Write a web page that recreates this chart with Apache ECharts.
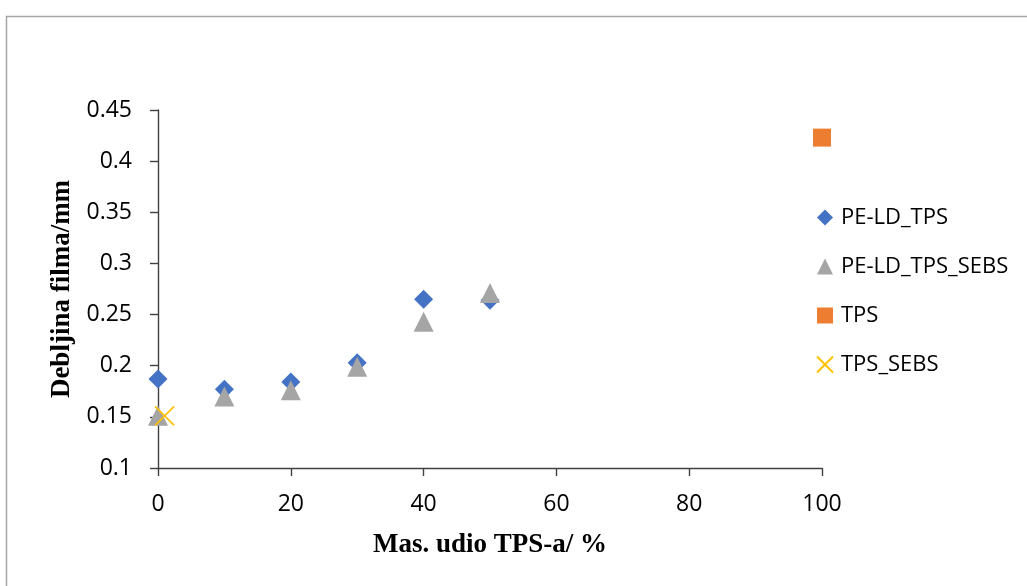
<!DOCTYPE html>
<html>
<head>
<meta charset="utf-8">
<title>Debljina filma</title>
<script src="https://cdn.jsdelivr.net/npm/echarts@6/dist/echarts.min.js"></script>
<style>
  html, body { margin: 0; padding: 0; background: #ffffff; }
  #chart { width: 1027px; height: 586px; }
</style>
</head>
<body>
<div id="chart"></div>
<script>
// Film thickness (mm) against TPS mass fraction (%)
const seriesNames = ['PE-LD_TPS', 'PE-LD_TPS_SEBS', 'TPS', 'TPS_SEBS'];

const peldTpsX = [0, 10, 20, 30, 40, 50];
const peldTpsY = [0.187, 0.177, 0.184, 0.203, 0.265, 0.264];

const peldTpsSebsX = [0, 10, 20, 30, 40, 50];
const peldTpsSebsY = [0.151, 0.170, 0.176, 0.199, 0.243, 0.271];

const tpsX = [100];
const tpsY = [0.423];

const tpsSebsX = [1];
const tpsSebsY = [0.151];

const xTicks = { min: 0, max: 100, interval: 20 };
const yTicks = { min: 0.1, max: 0.45, interval: 0.05 };

const pairs = (xs, ys) => xs.map((x, i) => [x, ys[i]]);

const axisColor = '#404040';
const labelFont = '"Open Sans", "Liberation Sans", sans-serif';
const titleFont = '"Liberation Serif", "Times New Roman", serif';

const chart = echarts.init(document.getElementById('chart'), null, { renderer: 'canvas' });

chart.setOption({
  animation: false,
  backgroundColor: '#ffffff',
  graphic: [{
    type: 'rect',
    left: 4, top: 14,
    shape: { width: 1100, height: 700 },
    style: { fill: 'none', stroke: '#a6a6a6', lineWidth: 1.5 },
    silent: true,
    z: -10
  }],
  grid: { left: 158, top: 110, right: 205, bottom: 118, containLabel: false },
  legend: {
    orient: 'vertical',
    left: 811,
    top: 200,
    itemWidth: 16,
    itemHeight: 16,
    itemGap: 24,
    textStyle: {
      fontFamily: labelFont,
      fontSize: 22,
      lineHeight: 25,
      color: '#000000',
      padding: [0, 0, 0, 3]
    },
    data: seriesNames
  },
  xAxis: {
    type: 'value',
    min: xTicks.min,
    max: xTicks.max,
    interval: xTicks.interval,
    name: 'Mas. udio TPS-a/ %',
    nameLocation: 'middle',
    nameGap: 64,
    nameTextStyle: { fontFamily: titleFont, fontWeight: 'bold', fontSize: 27, color: '#000000' },
    axisLine: { show: true, lineStyle: { color: axisColor, width: 1.4 } },
    axisTick: { show: true, inside: false, length: 8, lineStyle: { color: axisColor, width: 1.4 } },
    axisLabel: { margin: 25, fontFamily: labelFont, fontSize: 23, color: '#000000' },
    splitLine: { show: false }
  },
  yAxis: {
    type: 'value',
    min: yTicks.min,
    max: yTicks.max,
    interval: yTicks.interval,
    name: 'Debljina filma/mm',
    nameLocation: 'middle',
    nameGap: 82,
    nameRotate: 90,
    nameTextStyle: { fontFamily: titleFont, fontWeight: 'bold', fontSize: 27, color: '#000000' },
    axisLine: { show: true, lineStyle: { color: axisColor, width: 1.4 } },
    axisTick: { show: true, inside: false, length: 8, lineStyle: { color: axisColor, width: 1.4 } },
    axisLabel: {
      margin: 26,
      fontFamily: labelFont,
      fontSize: 23,
      color: '#000000',
      formatter: v => String(parseFloat(v.toFixed(2)))
    },
    splitLine: { show: false }
  },
  series: [
    {
      name: seriesNames[0],
      type: 'scatter',
      symbol: 'diamond',
      symbolSize: 19,
      itemStyle: { color: '#4472C4', opacity: 1 },
      data: pairs(peldTpsX, peldTpsY),
      z: 2
    },
    {
      name: seriesNames[1],
      type: 'scatter',
      symbol: 'triangle',
      symbolSize: 20,
      itemStyle: { color: '#A5A5A5', opacity: 1 },
      data: pairs(peldTpsSebsX, peldTpsSebsY),
      z: 3
    },
    {
      name: seriesNames[2],
      type: 'scatter',
      symbol: 'rect',
      symbolSize: 18,
      itemStyle: { color: '#ED7D31', opacity: 1 },
      data: pairs(tpsX, tpsY),
      z: 4
    },
    {
      name: seriesNames[3],
      type: 'scatter',
      symbol: 'path://M0,0L20,20M20,0L0,20',
      symbolSize: 19,
      itemStyle: { color: 'rgba(0,0,0,0)', borderColor: '#FFC000', borderWidth: 1.6, opacity: 1 },
      data: pairs(tpsSebsX, tpsSebsY),
      z: 5
    }
  ]
});
</script>
</body>
</html>
